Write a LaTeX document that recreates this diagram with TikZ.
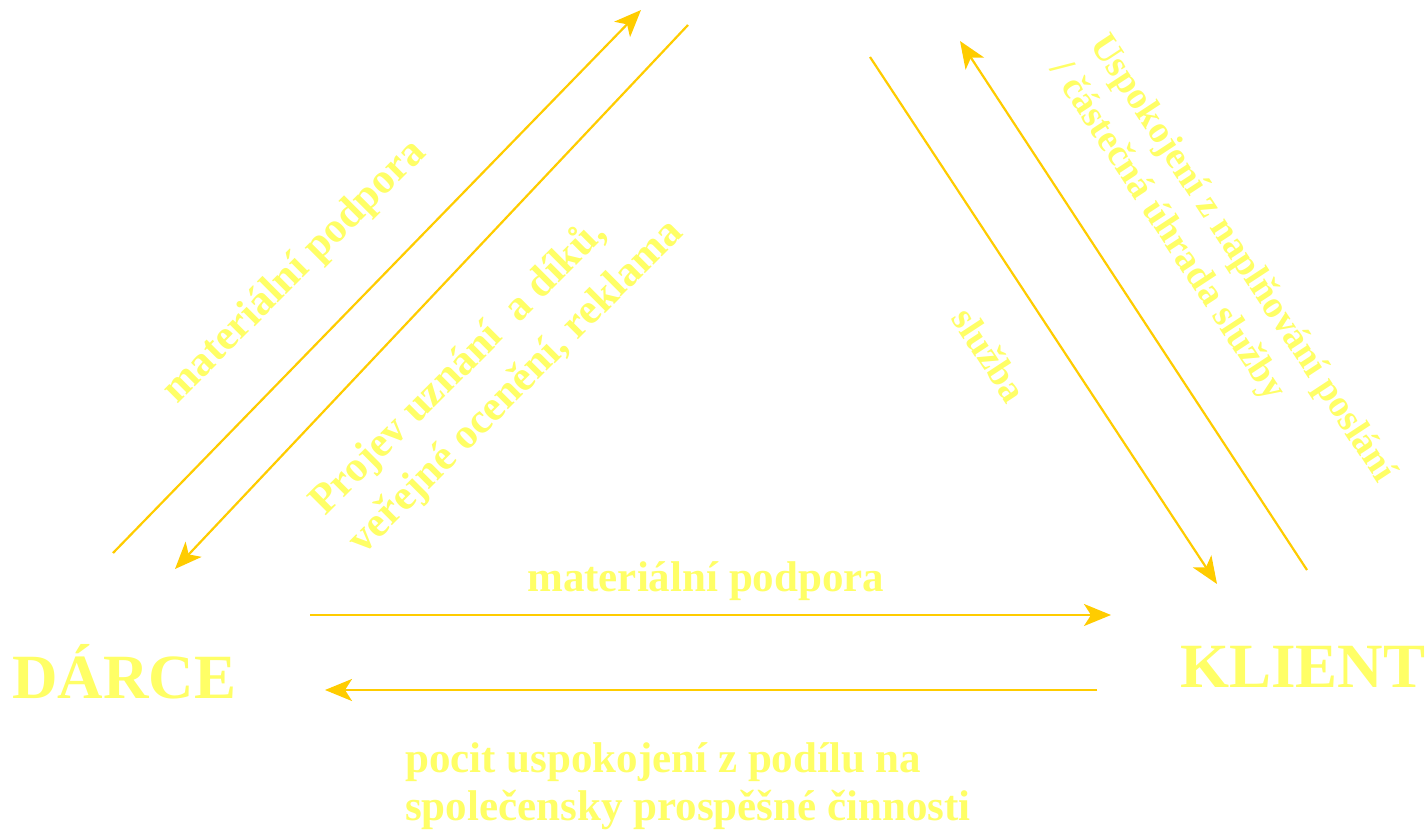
\documentclass[tikz,border=0pt]{standalone}
\usepackage{fontspec}
\setmainfont{Liberation Serif}
\usetikzlibrary{arrows.meta}
\definecolor{txtyellow}{HTML}{FFFF66}
\definecolor{arrgold}{HTML}{FFCC00}
\tikzset{
  flow/.style={draw=arrgold, line width=2.2pt, -{Stealth[length=27pt,width=22pt,inset=7pt]}},
  lbl/.style={text=txtyellow, font=\bfseries\fontsize{43}{48}\selectfont, inner sep=0pt},
  lblw/.style={text=txtyellow, font=\bfseries\fontsize{42.5}{54}\selectfont, inner sep=0pt},
  lblr/.style={text=txtyellow, font=\bfseries\fontsize{38}{47}\selectfont, inner sep=0pt},
  party/.style={text=txtyellow, font=\bfseries\fontsize{63}{70}\selectfont, inner sep=0pt},
}
\begin{document}
\begin{tikzpicture}[x=1pt,y=-1pt]
\useasboundingbox (0,0) rectangle (1428,834);
% parties
\node[party, anchor=base west] (darce) at (12,698) {DÁRCE};
\node[party, anchor=base west] (klient) at (1180,687) {KLIENT};
% arrow end points
\coordinate (a1s) at (113,553); \coordinate (a1e) at (641,10);
\coordinate (a2s) at (688,25);  \coordinate (a2e) at (175,569);
\coordinate (a3s) at (870,57);  \coordinate (a3e) at (1217,584);
\coordinate (a4s) at (1307,570); \coordinate (a4e) at (960,41);
\coordinate (a5s) at (310,615); \coordinate (a5e) at (1111,615);
\coordinate (a6s) at (1097,690); \coordinate (a6e) at (325,690);
\draw[flow] (a1s) -- (a1e);
\draw[flow] (a2s) -- (a2e);
\draw[flow] (a3s) -- (a3e);
\draw[flow] (a4s) -- (a4e);
\draw[flow] (a5s) -- (a5e);
\draw[flow] (a6s) -- (a6e);
% labels
\node[lblw, rotate=45] (l1) at (295,272) {materiální podpora};
\node[lblw, rotate=45, align=left] (l2) at (497,368) {Projev uznání~ a díků,\\veřejné ocenění, reklama};
\node[lblr, rotate=-56.7] (l3) at (990,355) {služba};
\node[lblr, rotate=-56.7, align=left] (l4) at (1222,272) {Uspokojení z naplňování poslání\\/ částečná úhrada služby};
\node[lbl, anchor=base west] (l5) at (527,591) {materiální podpora};
\node[lbl, anchor=north west, align=left] (l6) at (405,742) {pocit uspokojení z podílu na\\společensky prospěšné činnosti};
\end{tikzpicture}
\end{document}
